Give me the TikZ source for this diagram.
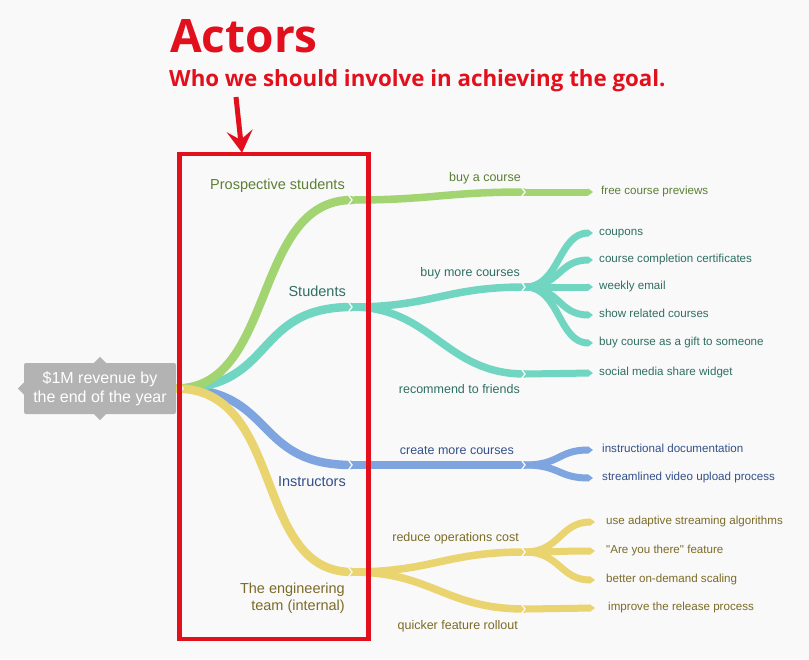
\documentclass[tikz,border=0pt]{standalone}
\usepackage{fontspec}
\setmainfont{Liberation Sans}[Ligatures=TeXOff]
\newfontfamily\titlefont{Open Sans}
\usetikzlibrary{positioning,arrows.meta}

\definecolor{bgcol}{HTML}{F9F9F9}
\definecolor{actred}{HTML}{E2101D}
\definecolor{rootgray}{HTML}{B3B3B3}
\definecolor{lgreen}{HTML}{A2D471}
\definecolor{dgreen}{HTML}{5B7F35}
\definecolor{lteal}{HTML}{70D6C1}
\definecolor{dteal}{HTML}{2F6F63}
\definecolor{lblue}{HTML}{7EA5E0}
\definecolor{dblue}{HTML}{34508A}
\definecolor{lyellow}{HTML}{EAD46F}
\definecolor{dyellow}{HTML}{7C6B27}

\tikzset{
  actorline/.style={line width=8.5pt, line cap=butt},
  impactline/.style={line width=7.5pt, line cap=butt},
  delivline/.style={line width=7pt, line cap=butt, -{Triangle[length=5pt,width=0pt 1]}},
  chev/.style={draw=bgcol, line width=1.3pt},
  lbl/.style={inner sep=0pt, text height=0.72em, text depth=0.21em},
  actorlbl/.style={lbl, font=\fontsize{14.5}{17}\selectfont},
  teamlbl/.style={inner sep=0pt, align=right, font=\fontsize{14.5}{17}\selectfont},
  impactlbl/.style={lbl, font=\fontsize{12.5}{15}\selectfont},
  delivlbl/.style={lbl, font=\fontsize{11.6}{14}\selectfont},
  goalbox/.style={fill=rootgray, rounded corners=2pt, text=white, align=center,
    minimum width=152pt, minimum height=51pt, inner sep=0pt,
    font=\fontsize{16}{19}\selectfont},
  titletxt/.style={text=actred, inner sep=0pt},
}
\newcommand\chevat[1]{\draw[chev] (#1) ++(-4,-5.5) -- ++(4,5.5) -- ++(-4,5.5);}

\begin{document}
\begin{tikzpicture}[x=1pt, y=-1pt]
  \useasboundingbox (0,0) rectangle (809,659);
  \fill[bgcol] (0,0) rectangle (809,659);

  % heading
  \node[titletxt, anchor=base west, font=\titlefont\bfseries\fontsize{46}{48}\selectfont]
    (title) at (170,52) {Actors};
  \node[titletxt, anchor=base west, font=\titlefont\bfseries\fontsize{22.3}{25}\selectfont]
    (subtitle) at (169,86) {Who we should involve in achieving the goal.};

  % goal
  \node[goalbox] (goal) at (100,388.5) {\$1M revenue by\\the end of the year};
  \fill[rootgray] ([xshift=-6pt]goal.north) -- ++(6,-6) -- ++(6,6) -- cycle;
  \fill[rootgray] ([xshift=-6pt]goal.south) -- ++(6,6) -- ++(6,-6) -- cycle;
  \fill[rootgray] ([yshift=6pt]goal.west) -- ++(-6,6) -- ++(6,6) -- cycle;

  % actors
  \coordinate (ps) at (352,200);
  \coordinate (st) at (352,307);
  \coordinate (ins) at (352,465);
  \coordinate (eng) at (352,572);
  \draw[actorline, lblue] (goal.east) .. controls +(100,0) and +(-100,0) .. (ins);
  \draw[actorline, lteal] (goal.east) .. controls +(100,0) and +(-100,0) .. (st);
  \draw[actorline, lgreen] (goal.east) .. controls +(100,0) and +(-100,0) .. (ps);
  \draw[actorline, lyellow] (goal.east) .. controls +(110,0) and +(-100,0) .. (eng);
  \chevat{[xshift=7pt]goal.east}

  \node[actorlbl, dgreen, above left=8.5pt and 7pt of ps] (psl) {Prospective students};
  \node[actorlbl, dteal, above left=8.5pt and 6pt of st] (stl) {Students};
  \node[actorlbl, dblue, below left=14.5pt and 6pt of ins] (insl) {Instructors};
  \node[teamlbl, dyellow, below left=11pt and 7pt of eng] (engl) {The engineering\\team (internal)};

  % impacts
  \coordinate (bc) at (525,192);
  \coordinate (bmc) at (525,287);
  \coordinate (rf) at (525,374);
  \coordinate (cmc) at (525,465);
  \coordinate (roc) at (525,552);
  \coordinate (qfr) at (525,609);
  \draw[impactline, lgreen] (ps) .. controls +(80,0) and +(-80,0) .. (bc);
  \draw[impactline, lteal] (st) .. controls +(80,0) and +(-80,0) .. (bmc);
  \draw[impactline, lteal] (st) .. controls +(80,0) and +(-80,0) .. (rf);
  \draw[impactline, lblue] (ins) -- (cmc);
  \draw[impactline, lyellow] (eng) .. controls +(80,0) and +(-80,0) .. (roc);
  \draw[impactline, lyellow] (eng) .. controls +(80,0) and +(-80,0) .. (qfr);

  \node[impactlbl, dgreen, above left=8pt and 4pt of bc] (bcl) {buy a course};
  \node[impactlbl, dteal, above left=8pt and 5pt of bmc] (bmcl) {buy more courses};
  \node[impactlbl, dteal, below left=12pt and 5pt of rf] (rfl) {recommend to friends};
  \node[impactlbl, dblue, above left=8pt and 11pt of cmc] (cmcl) {create more courses};
  \node[impactlbl, dyellow, above left=8pt and 6pt of roc] (rocl) {reduce operations cost};
  \node[impactlbl, dyellow, below left=13pt and 7pt of qfr] (qfrl) {quicker feature rollout};

  % deliverables
  \coordinate (fcp) at (593,192);
  \draw[delivline, lgreen] (bc) -- (fcp);
  \node[delivlbl, dgreen, right=8pt of fcp] (fcpl) {free course previews};

  \foreach \y/\txt [count=\i] in {233/coupons, 260/course completion certificates,
      287/weekly email, 315/show related courses, 343/buy course as a gift to someone} {
    \coordinate (bm\i) at (593,\y);
    \draw[delivline, lteal] (bmc) .. controls +(35,0) and +(-35,0) .. (bm\i);
    \node[delivlbl, dteal, right=6pt of bm\i] (bml\i) {\txt};
  }

  \coordinate (smw) at (593,373);
  \draw[delivline, lteal] (rf) -- (smw);
  \node[delivlbl, dteal, right=6pt of smw] (smwl) {social media share widget};

  \foreach \y/\txt [count=\i] in {450/instructional documentation,
      478/streamlined video upload process} {
    \coordinate (cm\i) at (593,\y);
    \draw[delivline, lblue] (cmc) .. controls +(35,0) and +(-35,0) .. (cm\i);
    \node[delivlbl, dblue, right=9pt of cm\i] (cml\i) {\txt};
  }

  \foreach \y/\txt [count=\i] in {522/use adaptive streaming algorithms,
      551/"Are you there" feature, 580/better on-demand scaling} {
    \coordinate (ro\i) at (595,\y);
    \draw[delivline, lyellow] (roc) .. controls +(35,0) and +(-35,0) .. (ro\i);
    \node[delivlbl, dyellow, right=11pt of ro\i] (rol\i) {\txt};
  }

  \coordinate (irp) at (595,608);
  \draw[delivline, lyellow] (qfr) -- (irp);
  \node[delivlbl, dyellow, right=13pt of irp] (irpl) {improve the release process};

  % junction notches
  \foreach \j in {ps,st,ins,eng,bc,bmc,rf,cmc,roc,qfr} {\chevat{\j}}

  % actor frame and pointer
  \node[draw=actred, line width=4.5pt, minimum width=189pt, minimum height=485pt,
    inner sep=0pt] (frame) at (274,396.5) {};
  \coordinate (arrtail) at (236,97);
  \draw[actred, line width=5pt, -{Stealth[length=22pt,width=26pt,inset=9pt]}]
    (arrtail) -- ([xshift=-32pt, yshift=-1pt]frame.north);
\end{tikzpicture}
\end{document}
